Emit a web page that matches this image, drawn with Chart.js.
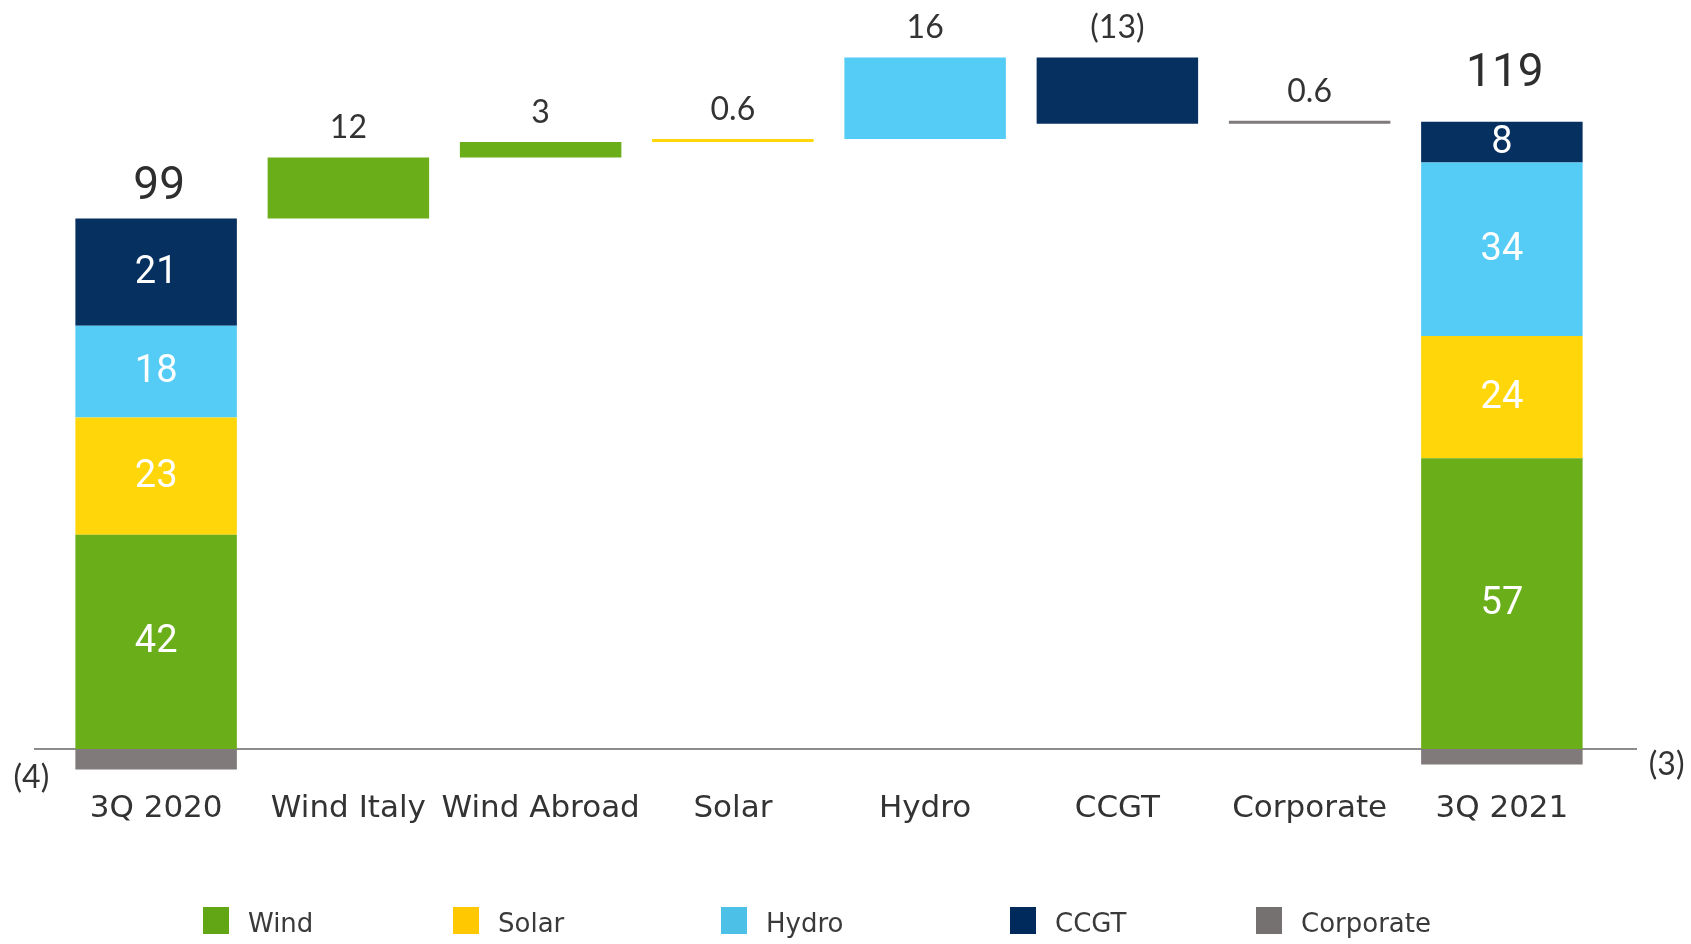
<!DOCTYPE html>
<html>
<head>
<meta charset="utf-8">
<script src="https://cdn.jsdelivr.net/npm/chart.js@4.4.1/dist/chart.umd.min.js"></script>
<style>
  body { margin: 0; background: #fff; }
  #wrap { position: relative; width: 1691px; height: 944px; }
  .sq { position: absolute; top: 907px; width: 26px; height: 27px; }
  .lt { position: absolute; top: 908px; font: 26px "DejaVu Sans"; line-height: 30px; color: #3a3a3a; white-space: nowrap; }
</style>
</head>
<body>
<div id="wrap">
  <canvas id="graphCanvas" width="1691" height="944"></canvas>
  <div id="legend"></div>
</div>
<script>
// categories and values
const categories = ['3Q 2020', 'Wind Italy', 'Wind Abroad', 'Solar', 'Hydro', 'CCGT', 'Corporate', '3Q 2021'];
const series = ['Wind', 'Solar', 'Hydro', 'CCGT', 'Corporate'];
const start2020 = [42, 23, 18, 21, -4];   // Wind, Solar, Hydro, CCGT, Corporate
const end2021 = [57, 24, 34, 8, -3];
const deltaValues = [12, 3, 0.6, 16, -13, 0.6];
const deltaSeries = ['Wind', 'Wind', 'Solar', 'Hydro', 'CCGT', 'Corporate'];
const deltaLabels = ['12', '3', '0.6', '16', '(13)', '0.6'];
const totals = [99, 119];
const negLabels = ['(4)', '(3)'];

const barColors = ['#6AAF1A', '#FFD60A', '#55CCF5', '#063060', '#807A7A'];
const legendColors = ['#63A615', '#FFC800', '#4DC0E8', '#002A5C', '#767171'];

// floating ranges for a stacked bar
function stackRanges(vals) {
    let up = 0, down = 0;
    return vals.map(v => {
        if (v >= 0) { const r = [up, up + v]; up += v; return r; }
        const r = [down + v, down]; down += v; return r;
    });
}

const first = stackRanges(start2020);
const last = stackRanges(end2021);
const datasets = series.map((name, i) => ({
    label: name,
    data: categories.map(() => null),
    backgroundColor: barColors[i],
    grouped: false,
    barPercentage: 0.84,
    categoryPercentage: 1,
    borderSkipped: false
}));
series.forEach((s, i) => {
    datasets[i].data[0] = first[i];
    datasets[i].data[categories.length - 1] = last[i];
});

// waterfall from the top of the first stack
let level = start2020.filter(v => v > 0).reduce((a, b) => a + b, 0);
deltaValues.forEach((d, k) => {
    const si = series.indexOf(deltaSeries[k]);
    datasets[si].data[k + 1] = [level, level + d];
    level += d;
});

const labelPlugin = {
    id: 'labels',
    beforeDatasetsDraw(chart) {
        const c = chart.ctx;
        const y0 = chart.scales.y.getPixelForValue(0);
        c.save();
        c.strokeStyle = '#8c8c8c';
        c.lineWidth = 2;
        c.beginPath();
        c.moveTo(34, y0);
        c.lineTo(1637, y0);
        c.stroke();
        c.restore();
    },
    afterDatasetsDraw(chart) {
        const c = chart.ctx;
        const ys = chart.scales.y;
        c.save();
        c.textAlign = 'center';

        // values inside the two stacked bars
        c.font = '38px Roboto';
        c.fillStyle = '#ffffff';
        c.textBaseline = 'middle';
        [[0, start2020], [categories.length - 1, end2021]].forEach(([idx, vals]) => {
            vals.forEach((v, i) => {
                if (v <= 0) return;
                const el = chart.getDatasetMeta(i).data[idx];
                c.fillText(String(v), el.x, (el.y + el.base) / 2 + 1);
            });
        });

        // totals
        c.font = '46px Roboto';
        c.fillStyle = '#2e2e2e';
        c.textBaseline = 'alphabetic';
        const gaps = [20, 36];
        [0, categories.length - 1].forEach((idx, k) => {
            const el = chart.getDatasetMeta(0).data[idx];
            const vals = k === 0 ? start2020 : end2021;
            const top = ys.getPixelForValue(vals.filter(v => v > 0).reduce((a, b) => a + b, 0));
            c.fillText(String(totals[k]), el.x + 3, top - gaps[k]);
        });

        // waterfall steps
        c.font = '32px Lato';
        c.fillStyle = '#333333';
        deltaValues.forEach((d, k) => {
            const si = series.indexOf(deltaSeries[k]);
            const el = chart.getDatasetMeta(si).data[k + 1];
            c.fillText(deltaLabels[k], el.x, Math.min(el.y, el.base) - 19);
        });

        // negative corporate labels
        c.textBaseline = 'middle';
        const ci = series.indexOf('Corporate');
        const e0 = chart.getDatasetMeta(ci).data[0];
        const e1 = chart.getDatasetMeta(ci).data[categories.length - 1];
        c.fillText(negLabels[0], e0.x - e0.width / 2 - 44, Math.max(e0.y, e0.base) + 8);
        c.fillText(negLabels[1], e1.x + e1.width / 2 + 84, Math.max(e1.y, e1.base));
        c.restore();
    }
};

const ctx = document.getElementById('graphCanvas').getContext('2d');
const chart = new Chart(ctx, {
    type: 'bar',
    data: { labels: categories, datasets: datasets },
    plugins: [labelPlugin],
    options: {
        responsive: false,
        animation: false,
        layout: { padding: { left: 60, right: 93, top: 35, bottom: 110 } },
        plugins: { legend: { display: false }, tooltip: { enabled: false } },
        scales: {
            x: {
                grid: { display: false, drawTicks: false },
                border: { display: false },
                ticks: { font: { family: 'DejaVu Sans', size: 31 }, color: '#333333', padding: 6, maxRotation: 0, autoSkip: false }
            },
            y: { display: false, min: -7, max: 140 }
        }
    }
});

// legend
const legendX = [203, 453, 721, 1010, 1256];
const legend = document.getElementById('legend');
series.forEach((s, i) => {
    const sq = document.createElement('div');
    sq.className = 'sq';
    sq.style.left = legendX[i] + 'px';
    sq.style.background = legendColors[i];
    legend.appendChild(sq);
    const t = document.createElement('div');
    t.className = 'lt';
    t.style.left = (legendX[i] + 45) + 'px';
    t.textContent = s;
    legend.appendChild(t);
});
</script>
</body>
</html>
